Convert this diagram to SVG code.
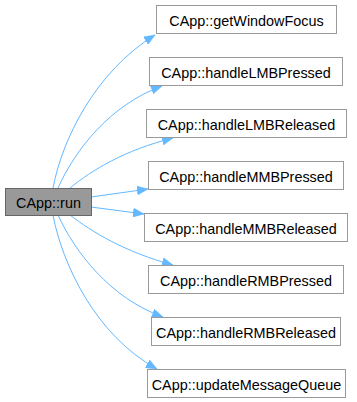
<svg xmlns="http://www.w3.org/2000/svg" width="357" height="402" viewBox="0 0 357 402">
  <style>
    .node rect { fill: #ffffff; stroke: #999999; stroke-width: 1; }
    .node.cur rect { fill: #999999; stroke: #666666; }
    .node text { font-family: "Liberation Sans", Arial, sans-serif; font-size: 14.4px; fill: #000000; text-anchor: middle; }
    .edge { fill: none; stroke: #63b8ff; stroke-width: 1; marker-end: url(#arrow); }
  </style>
  <defs>
    <marker id="arrow" markerUnits="userSpaceOnUse" markerWidth="12" markerHeight="9" refX="11" refY="4.5" orient="auto">
      <path d="M0,0 L11,4.5 L0,9 z" fill="#63b8ff" stroke="#63b8ff" stroke-width="0.5"/>
    </marker>
  </defs>

  <g id="edges">
    <path class="edge" d="M53,188 C62,140 95,72 155,35"/>
    <path class="edge" d="M58,188 C75,150 110,105 162,86"/>
    <path class="edge" d="M70,188 C92,170 125,150 173,138"/>
    <path class="edge" d="M91,197 L148,189"/>
    <path class="edge" d="M91,207 L144,214"/>
    <path class="edge" d="M70,215 C92,232 125,252 173,265"/>
    <path class="edge" d="M58,215 C75,252 110,298 163,317"/>
    <path class="edge" d="M53,215 C62,263 95,335 157,369"/>
  </g>

  <g id="node-run" class="node cur">
    <rect x="5.5" y="188.5" width="86" height="27"/>
    <text x="48.5" y="208">CApp::run</text>
  </g>
  <g id="node-getWindowFocus" class="node">
    <rect x="156.5" y="5.5" width="180" height="28"/>
    <text x="246.5" y="25.5">CApp::getWindowFocus</text>
  </g>
  <g id="node-handleLMBPressed" class="node">
    <rect x="149.5" y="57.5" width="193" height="28"/>
    <text x="246" y="77.5">CApp::handleLMBPressed</text>
  </g>
  <g id="node-handleLMBReleased" class="node">
    <rect x="146.5" y="109.5" width="200" height="28"/>
    <text x="246.5" y="129.5">CApp::handleLMBReleased</text>
  </g>
  <g id="node-handleMMBPressed" class="node">
    <rect x="148.5" y="161.5" width="195" height="28"/>
    <text x="246" y="181.5">CApp::handleMMBPressed</text>
  </g>
  <g id="node-handleMMBReleased" class="node">
    <rect x="144.5" y="213.5" width="203" height="28"/>
    <text x="246" y="233.5">CApp::handleMMBReleased</text>
  </g>
  <g id="node-handleRMBPressed" class="node">
    <rect x="148.5" y="265.5" width="195" height="28"/>
    <text x="246" y="285.5">CApp::handleRMBPressed</text>
  </g>
  <g id="node-handleRMBReleased" class="node">
    <rect x="151.5" y="317.5" width="189" height="28"/>
    <text x="246" y="337.5">CApp::handleRMBReleased</text>
  </g>
  <g id="node-updateMessageQueue" class="node">
    <rect x="147.5" y="369.5" width="198" height="28"/>
    <text x="246.5" y="389.5">CApp::updateMessageQueue</text>
  </g>
</svg>
